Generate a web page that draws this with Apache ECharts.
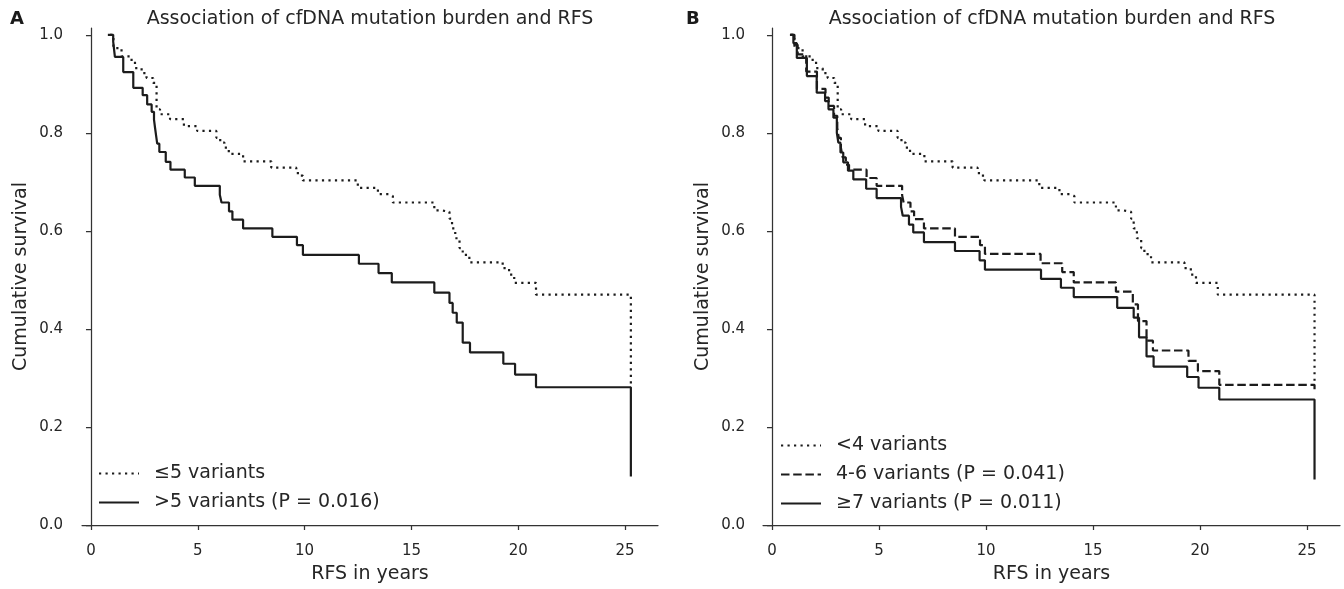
<!DOCTYPE html>
<html>
<head>
<meta charset="utf-8">
<script src="https://cdn.jsdelivr.net/npm/echarts@6/dist/echarts.min.js"></script>
<style>
html,body{margin:0;padding:0;background:#fff;}
#chart{width:1344px;height:589px;}
</style>
</head>
<body>
<div id="chart"></div>
<script>
// ---- data ----
const xTicks = [0, 5, 10, 15, 20, 25];
const yTicks = [0, 0.2, 0.4, 0.6, 0.8, 1.0];

const panelTitle = 'Association of cfDNA mutation burden and RFS';
const xName = 'RFS in years';
const yName = 'Cumulative survival';

// Panel A
const aLowName = '≤5 variants';
const aLowT = [0.89, 1.05, 1.43, 1.9, 2.06, 2.37, 2.6, 2.91, 3.07, 3.23, 3.7, 4.35, 4.97, 5.87, 6.05, 6.25, 6.45, 7.12, 8.44, 9.61, 9.76, 9.92, 12.49, 13.43, 13.97, 14.13, 16.07, 16.4, 16.78, 16.9, 17.05, 17.25, 17.4, 17.55, 17.71, 19.27, 19.57, 19.81, 20.83, 25.27, 25.27];
const aLowS = [1.0, 0.973, 0.956, 0.946, 0.932, 0.922, 0.912, 0.902, 0.848, 0.838, 0.828, 0.814, 0.804, 0.79, 0.78, 0.77, 0.757, 0.742, 0.729, 0.718, 0.713, 0.703, 0.688, 0.675, 0.671, 0.658, 0.642, 0.639, 0.625, 0.605, 0.585, 0.565, 0.555, 0.549, 0.536, 0.524, 0.511, 0.494, 0.470, 0.470, 0.285];

const aHighName = '>5 variants (P = 0.016)';
const aHighT = [0.79, 1.04, 1.12, 1.51, 1.98, 2.42, 2.63, 2.84, 2.95, 3.0, 3.05, 3.1, 3.2, 3.5, 3.72, 4.39, 4.86, 6.03, 6.11, 6.46, 6.62, 7.12, 8.49, 9.64, 9.92, 12.54, 13.46, 14.08, 16.07, 16.78, 16.93, 17.12, 17.4, 17.74, 19.3, 19.85, 20.83, 25.27, 25.27];
const aHighS = [1.0, 0.986, 0.955, 0.924, 0.892, 0.877, 0.858, 0.843, 0.827, 0.81, 0.794, 0.778, 0.761, 0.741, 0.725, 0.709, 0.692, 0.674, 0.658, 0.640, 0.623, 0.605, 0.588, 0.571, 0.551, 0.533, 0.514, 0.495, 0.474, 0.453, 0.433, 0.413, 0.372, 0.352, 0.329, 0.307, 0.281, 0.281, 0.099];

// Panel B
const bLowName = '<4 variants';
const bLowT = [0.89, 1.05, 1.43, 1.9, 2.06, 2.37, 2.6, 2.91, 3.07, 3.23, 3.7, 4.35, 4.97, 5.87, 6.05, 6.25, 6.45, 7.12, 8.44, 9.61, 9.76, 9.92, 12.49, 13.43, 13.97, 14.13, 16.07, 16.4, 16.78, 16.9, 17.05, 17.25, 17.4, 17.55, 17.71, 19.27, 19.57, 19.81, 20.83, 25.35, 25.35];
const bLowS = [1.0, 0.973, 0.956, 0.946, 0.932, 0.922, 0.912, 0.902, 0.848, 0.838, 0.828, 0.814, 0.804, 0.79, 0.78, 0.77, 0.757, 0.742, 0.729, 0.718, 0.713, 0.703, 0.688, 0.675, 0.671, 0.658, 0.642, 0.639, 0.625, 0.605, 0.585, 0.565, 0.555, 0.549, 0.536, 0.524, 0.511, 0.494, 0.470, 0.470, 0.29];

const bMidName = '4-6 variants (P = 0.041)';
const bMidT = [0.84, 1.05, 1.2, 1.6, 2.1, 2.5, 2.65, 2.9, 3.05, 3.12, 3.22, 3.3, 3.45, 3.6, 4.42, 4.89, 6.08, 6.15, 6.47, 6.64, 7.1, 8.55, 9.72, 9.95, 12.55, 13.56, 14.1, 16.07, 16.86, 17.1, 17.5, 17.8, 19.46, 19.9, 20.9, 25.35, 25.35];
const bMidS = [1.0, 0.98, 0.96, 0.925, 0.89, 0.872, 0.855, 0.835, 0.81, 0.79, 0.77, 0.75, 0.735, 0.725, 0.708, 0.692, 0.673, 0.658, 0.640, 0.624, 0.605, 0.588, 0.571, 0.553, 0.534, 0.516, 0.495, 0.476, 0.45, 0.416, 0.376, 0.356, 0.335, 0.314, 0.286, 0.286, 0.27];

const bHighName = '≥7 variants (P = 0.011)';
const bHighT = [0.84, 1.0, 1.16, 1.63, 2.09, 2.48, 2.64, 2.87, 3.03, 3.1, 3.2, 3.33, 3.55, 3.8, 4.4, 4.89, 6.03, 6.11, 6.4, 6.6, 7.1, 8.55, 9.7, 9.95, 12.57, 13.5, 14.1, 16.13, 16.9, 17.15, 17.5, 17.83, 19.4, 19.93, 20.9, 25.35, 25.35];
const bHighS = [1.0, 0.983, 0.953, 0.916, 0.882, 0.865, 0.848, 0.831, 0.80, 0.78, 0.76, 0.740, 0.723, 0.705, 0.686, 0.667, 0.649, 0.631, 0.613, 0.597, 0.577, 0.559, 0.540, 0.521, 0.502, 0.484, 0.465, 0.443, 0.423, 0.383, 0.344, 0.323, 0.302, 0.28, 0.256, 0.256, 0.093];

// ---- chart ----
const FONT = 'DejaVu Sans';
const TXT = '#262626';
const INK = '#1c1c1c';
const zip = (t, s) => t.map((v, i) => [v, s[i]]);
const DOT = [2.2, 4.3];
const DASH = [8.5, 3.7];

function xAx(gi) {
  return {
    type: 'value', gridIndex: gi, min: -0.42, max: 26.54, offset: 9,
    name: xName, nameLocation: 'middle', nameGap: 31,
    nameTextStyle: { fontFamily: FONT, fontSize: 19, color: TXT },
    axisLine: { show: true, lineStyle: { color: '#333', width: 1.25 } },
    axisTick: { show: true, length: 5, lineStyle: { color: '#333', width: 1.25 }, customValues: xTicks },
    axisLabel: { fontFamily: FONT, fontSize: 15, color: TXT, margin: 10, customValues: xTicks },
    splitLine: { show: false }
  };
}
function yAx(gi, off) {
  return {
    type: 'value', gridIndex: gi, min: 0, max: 1.014, offset: off,
    name: yName, nameLocation: 'middle', nameGap: 43,
    nameTextStyle: { fontFamily: FONT, fontSize: 19, color: TXT },
    axisLine: { show: true, lineStyle: { color: '#333', width: 1.25 } },
    axisTick: { show: true, length: 5, lineStyle: { color: '#333', width: 1.25 }, customValues: yTicks },
    axisLabel: { fontFamily: FONT, fontSize: 15, color: TXT, margin: 11, customValues: yTicks, formatter: v => v.toFixed(1) },
    splitLine: { show: false }
  };
}
function ser(name, t, s, gi, type) {
  return {
    name, type: 'line', step: 'end', xAxisIndex: gi, yAxisIndex: gi,
    data: zip(t, s), symbol: 'none', showSymbol: false,
    lineStyle: { color: INK, width: 2.2, type: type },
    itemStyle: { color: INK },
    emphasis: { disabled: true }
  };
}
function legend(names, left, top) {
  return {
    data: names, orient: 'vertical', left: left, top: top, padding: 0,
    itemWidth: 40, itemHeight: 14, itemGap: 10,
    itemStyle: { opacity: 0, borderWidth: 0 },
    textStyle: { fontFamily: FONT, fontSize: 19, color: TXT, padding: [0, 0, 0, 10] },
    selectedMode: false
  };
}

const chart = echarts.init(document.getElementById('chart'));
chart.setOption({
  animation: false,
  backgroundColor: '#fff',
  title: [
    { text: 'A', left: 10, top: 10, padding: 0, textStyle: { fontFamily: FONT, fontSize: 18, fontWeight: 'bold', color: '#1a1a1a' } },
    { text: 'B', left: 686, top: 10, padding: 0, textStyle: { fontFamily: FONT, fontSize: 18, fontWeight: 'bold', color: '#1a1a1a' } },
    { text: panelTitle, left: 370, textAlign: 'center', top: 10, padding: 0, textStyle: { fontFamily: FONT, fontSize: 19, fontWeight: 'normal', color: TXT } },
    { text: panelTitle, left: 1052, textAlign: 'center', top: 10, padding: 0, textStyle: { fontFamily: FONT, fontSize: 19, fontWeight: 'normal', color: TXT } }
  ],
  grid: [
    { left: 82, top: 28, width: 576, height: 500 },
    { left: 763, top: 28, width: 577, height: 500 }
  ],
  xAxis: [xAx(0), xAx(1)],
  yAxis: [yAx(0, 8), yAx(1, 7)],
  legend: [
    legend([aLowName, aHighName], 98, 464),
    legend([bLowName, bMidName, bHighName], 780, 436)
  ],
  series: [
    ser(aLowName, aLowT, aLowS, 0, DOT),
    ser(aHighName, aHighT, aHighS, 0, 'solid'),
    ser(bLowName, bLowT, bLowS, 1, DOT),
    ser(bMidName, bMidT, bMidS, 1, DASH),
    ser(bHighName, bHighT, bHighS, 1, 'solid')
  ]
});
</script>
</body>
</html>
